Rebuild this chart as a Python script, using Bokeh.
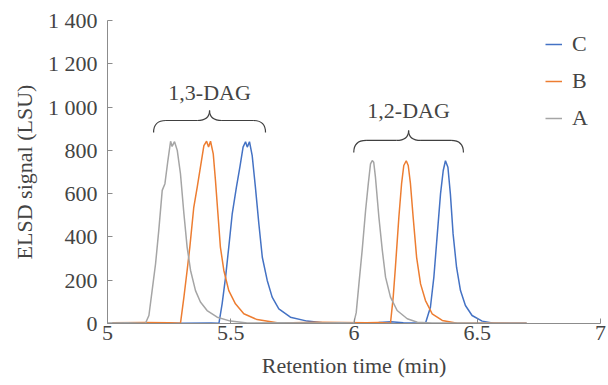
from bokeh.plotting import figure
from bokeh.models import Range1d, FixedTicker, Legend, LegendItem, Label, CustomJS
from bokeh.events import DocumentReady
from bokeh.io import curdoc
from bokeh.embed import file_html
from bokeh.resources import INLINE

# ---- data ----
a_x = [5.00, 5.08, 5.154, 5.168, 5.181, 5.195, 5.208, 5.222, 5.233, 5.245, 5.256, 5.262, 5.272, 5.283,
       5.296, 5.310, 5.323, 5.337, 5.357, 5.377, 5.404, 5.445, 5.499, 5.567, 5.70, 5.85, 5.95,
       5.999, 6.009, 6.020, 6.033, 6.047, 6.058, 6.067, 6.074, 6.080, 6.087, 6.101, 6.115, 6.128,
       6.148, 6.175, 6.216, 6.257, 6.317, 6.45, 6.70]
a_y = [2, 3, 1, 37, 152, 276, 430, 615, 646, 753, 842, 818, 840, 800,
       692, 507, 353, 245, 152, 99, 60, 29, 11, 2, 3, 2, 3,
       2, 50, 183, 337, 522, 646, 738, 753, 745, 676, 491, 337, 214,
       122, 60, 22, 6, 2, 2, 1]

b_x = [5.02, 5.15, 5.25, 5.296, 5.310, 5.323, 5.334, 5.350, 5.364, 5.377, 5.391, 5.402, 5.410, 5.418,
       5.429, 5.438, 5.448, 5.458, 5.472, 5.492, 5.519, 5.553, 5.607, 5.688, 5.75, 5.85, 5.95,
       6.05, 6.10, 6.148, 6.159, 6.168, 6.182, 6.193, 6.202, 6.212, 6.220, 6.229, 6.240, 6.254,
       6.270, 6.290, 6.317, 6.358, 6.419, 6.55, 6.70]
b_y = [4, 5, 3, 1, 122, 245, 353, 537, 630, 722, 822, 842, 815, 842,
       784, 661, 507, 353, 245, 152, 91, 45, 18, 3, 4, 6, 5,
       3, 5, 1, 122, 260, 491, 646, 730, 752, 730, 646, 491, 306,
       183, 106, 45, 14, 1, 2, 1]

c_x = [5.02, 5.30, 5.42, 5.452, 5.465, 5.479, 5.492, 5.506, 5.523, 5.537, 5.550, 5.560, 5.567, 5.576,
       5.587, 5.600, 5.614, 5.628, 5.648, 5.668, 5.695, 5.742, 5.810, 5.891, 6.00, 6.10, 6.15,
       6.20, 6.27, 6.290, 6.310, 6.324, 6.338, 6.351, 6.362, 6.371, 6.381, 6.391, 6.402, 6.416,
       6.432, 6.452, 6.479, 6.520, 6.567, 6.70]
c_y = [1, 1, 2, 1, 91, 214, 353, 507, 630, 722, 815, 840, 815, 840,
       776, 630, 461, 306, 199, 122, 68, 29, 11, 1, 2, 5, 8,
       3, 2, 1, 75, 214, 414, 599, 707, 752, 722, 599, 414, 260,
       152, 83, 37, 11, 1, 1]

series_names = ["C", "B", "A"]
series_colors = ["#4472c4", "#ed7d31", "#a5a5a5"]

x_ticks = [5, 5.5, 6, 6.5, 7]
x_tick_labels = ["5", "5.5", "6", "6.5", "7"]
y_ticks = [0, 200, 400, 600, 800, 1000, 1200, 1400]
y_tick_labels = ["0", "200", "400", "600", "800", "1 000", "1 200", "1 400"]

# annotation braces
brace_labels = ["1,3-DAG", "1,2-DAG"]
brace_x0 = [5.187, 5.999]
brace_x1 = [5.641, 6.444]
brace_tip_y = [883, 790]
brace_bar_y = [938, 846]
brace_top_y = [984, 892]
brace_label_y = [1067, 984]

FONT = "Liberation Serif"
FS = "22px"

p = figure(width=608, height=385, output_backend="svg", toolbar_location=None,
           x_range=Range1d(5, 7), y_range=Range1d(0, 1400),
           min_border_left=107, min_border_right=8, min_border_top=20, min_border_bottom=62)
p.outline_line_color = None
p.xgrid.visible = False
p.ygrid.visible = False
p.background_fill_color = "white"

for ax in (p.xaxis[0], p.yaxis[0]):
    ax.axis_line_color = "#8c8c8c"
    ax.major_tick_line_color = "#8c8c8c"
    ax.major_tick_in = 5
    ax.major_tick_out = 0
    ax.minor_tick_line_color = None
    ax.major_label_text_font = FONT
    ax.major_label_text_font_size = FS
    ax.axis_label_text_font = FONT
    ax.axis_label_text_font_size = FS
    ax.axis_label_text_font_style = "normal"

p.xaxis.ticker = FixedTicker(ticks=x_ticks)
p.xaxis.major_label_overrides = {t: l for t, l in zip(x_ticks, x_tick_labels)}
p.yaxis.ticker = FixedTicker(ticks=y_ticks)
p.yaxis.major_label_overrides = {t: l for t, l in zip(y_ticks, y_tick_labels)}
p.xaxis.axis_label = "Retention time (min)"
p.yaxis.axis_label = "ELSD signal (LSU)"
p.xaxis.major_label_standoff = 2
p.xaxis.axis_label_standoff = 10
p.yaxis.major_label_standoff = 10
p.yaxis.axis_label_standoff = 8

xs_all = [c_x, b_x, a_x]
ys_all = [c_y, b_y, a_y]
items = []
for name, col, xs, ys in zip(series_names, series_colors, xs_all, ys_all):
    r = p.line(xs, ys, line_color=col, line_width=1.5)
    items.append(LegendItem(label=name, renderers=[r]))

legend = Legend(items=items, location=(438, 192))
legend.label_text_font = FONT
legend.label_text_font_size = FS
legend.border_line_color = None
legend.background_fill_alpha = 0
legend.glyph_width = 17
legend.glyph_height = 24
legend.label_height = 24
legend.label_standoff = 10
legend.spacing = 11
legend.padding = 0
legend.margin = 0
p.add_layout(legend)

# braces drawn as quadratic curves + straight bars
for lab, x0, x1, ty, by, py, ly in zip(brace_labels, brace_x0, brace_x1, brace_tip_y,
                                       brace_bar_y, brace_top_y, brace_label_y):
    xm = (x0 + x1) / 2
    d = 0.05
    q_x0 = [x0, xm - d, x1, xm + d]
    q_y0 = [ty, by, ty, by]
    q_x1 = [x0 + d, xm, x1 - d, xm]
    q_y1 = [by, py, by, py]
    q_cx = [x0, xm, x1, xm]
    q_cy = [by, by, by, by]
    p.quadratic(x0=q_x0, y0=q_y0, x1=q_x1, y1=q_y1, cx=q_cx, cy=q_cy,
                line_color="#404040", line_width=1.2)
    p.segment(x0=[x0 + d, xm + d], y0=[by, by], x1=[xm - d, x1 - d], y1=[by, by],
              line_color="#404040", line_width=1.2)
    p.add_layout(Label(x=xm, y=ly, text=lab, text_font=FONT, text_font_size=FS,
                       text_align="center", text_baseline="middle"))

# repaint once fonts are available, so that texts pick up the serif face
repaint = CustomJS(args=dict(xr=p.x_range), code="""
const nudge = () => { const e = xr.end; xr.end = e + 1e-9; xr.end = e; };
try { document.fonts.load("22px 'Liberation Serif'").then(nudge); } catch (err) {}
setTimeout(nudge, 80);
setTimeout(nudge, 300);
setTimeout(nudge, 900);
""")
doc = curdoc()
doc.add_root(p)
doc.js_on_event(DocumentReady, repaint)

open("out.html", "w").write(file_html(p, INLINE))
